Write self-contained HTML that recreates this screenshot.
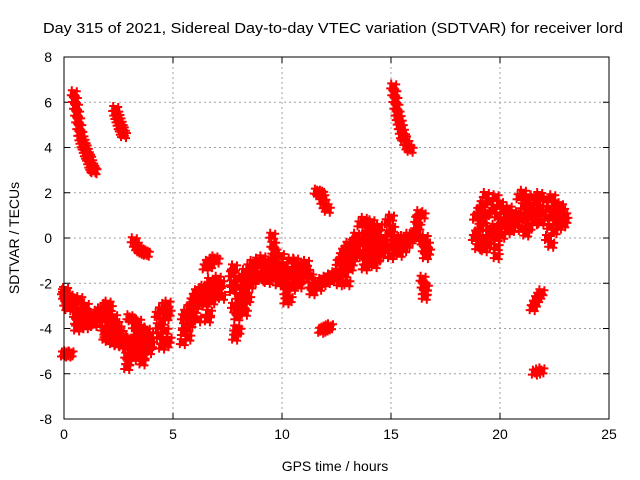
<!DOCTYPE html>
<html><head><meta charset="utf-8"><style>
html,body{margin:0;padding:0;background:#fff;}
svg{display:block;font-family:"Liberation Sans",Arial,sans-serif;}
</style></head><body>
<svg id="chart" width="640" height="480" viewBox="0 0 640 480" xmlns="http://www.w3.org/2000/svg">
<text x="333" y="33" font-size="14.5" text-anchor="middle" textLength="580" lengthAdjust="spacingAndGlyphs">Day 315 of 2021, Sidereal Day-to-day VTEC variation (SDTVAR) for receiver lord</text>
<text x="0" y="0" font-size="14" text-anchor="middle" transform="translate(19,238) rotate(-90)">SDTVAR / TECUs</text>
<text x="335" y="471" font-size="14" text-anchor="middle">GPS time / hours</text>
<g id="grid"></g>
<g id="ticks"></g>
<g id="points"></g>
<rect x="64" y="57" width="545" height="362" fill="none" stroke="#000" stroke-width="1"/>
</svg>
<script>
const xTicks=[0,5,10,15,20,25];
const yTicks=[-8,-6,-4,-2,0,2,4,6,8];
const passA=[[0.45,6.4],[0.5,6.1],[0.55,5.8],[0.6,5.5],[0.65,5.2],[0.7,4.9],[0.75,4.6],[0.8,4.4],[0.85,4.25],[0.9,4.1],[0.95,4.0],[1.0,3.85],[1.05,3.7],[1.1,3.6],[1.15,3.5],[1.2,3.35],[1.25,3.2],[1.3,3.1],[1.35,3.0],[1.4,2.95]];
const passB=[[2.35,5.7],[2.4,5.5],[2.45,5.35],[2.5,5.2],[2.55,5.05],[2.6,4.9],[2.65,4.8],[2.7,4.65],[2.75,4.55]];
const passC=[[3.2,-0.1],[3.3,-0.3],[3.4,-0.45],[3.5,-0.55],[3.6,-0.6],[3.7,-0.65],[3.8,-0.7]];
const passD=[[15.1,6.7],[15.15,6.4],[15.2,6.1],[15.25,5.8],[15.3,5.5],[15.35,5.3],[15.4,5.1],[15.45,4.9],[15.5,4.7],[15.55,4.5],[15.6,4.4],[15.7,4.2],[15.8,4.0],[15.9,3.9]];
const passE=[[11.6,2.05],[11.7,2.0],[11.8,1.95],[11.85,1.8],[11.9,1.6],[12.0,1.4],[12.1,1.25]];
const passF=[[11.8,-4.1],[11.9,-4.05],[12.0,-4.0],[12.1,-3.95],[12.2,-3.9]];
const passG=[[21.5,-3.1],[21.6,-2.9],[21.7,-2.7],[21.8,-2.55],[21.9,-2.4]];
const passH=[[21.6,-5.95],[21.75,-5.9],[21.9,-5.85]];
const pass0=[[0.0,-5.15],[0.1,-5.1],[0.2,-5.15],[0.3,-5.1]];
const blob1=[[0.0,-2.4],[0.05,-2.6],[0.1,-2.5],[0.15,-2.7],[0.2,-2.8],[0.25,-2.6],[0.3,-2.9],[0.35,-3.0],[0.4,-2.8],[0.1,-2.9],[0.2,-3.1],[0.05,-2.3],[0.3,-2.7]];
const blob2=[[0.5,-3.0],[0.55,-3.4],[0.6,-3.7],[0.65,-2.8],[0.7,-3.3],[0.75,-3.6],[0.8,-3.9],[0.85,-3.5],[0.9,-3.2],[0.95,-3.7],[1.0,-3.9],[1.05,-3.4],[1.1,-3.6],[1.15,-3.8],[1.2,-3.5],[1.25,-3.7],[1.3,-3.4],[1.35,-3.6],[1.4,-3.8],[1.45,-3.5],[1.5,-3.3],[1.55,-3.6],[1.6,-3.4],[1.65,-3.2],[0.7,-2.7],[0.6,-4.0],[1.0,-3.0]];
const blob3=[[1.75,-3.2],[1.8,-3.6],[1.85,-4.0],[1.9,-3.0],[1.95,-4.3],[2.0,-3.3],[2.05,-4.5],[2.1,-3.6],[2.15,-4.2],[2.2,-3.9],[2.25,-4.6],[2.3,-3.5],[2.35,-4.4],[2.4,-3.8],[2.45,-4.7],[2.5,-4.0],[2.55,-4.5],[2.6,-4.2],[2.65,-4.7],[2.7,-4.4],[2.75,-4.6],[2.0,-2.9],[2.1,-3.1],[2.3,-4.1],[1.9,-4.4]];
const blob4=[[2.85,-4.8],[2.9,-5.2],[2.95,-5.5],[3.0,-4.5],[3.05,-5.0],[3.1,-3.6],[3.15,-4.7],[3.2,-5.3],[3.25,-3.9],[3.3,-4.4],[3.35,-4.9],[3.4,-4.2],[3.45,-5.1],[3.5,-4.6],[3.55,-4.0],[3.6,-4.8],[3.65,-5.2],[3.7,-4.4],[3.75,-4.9],[3.8,-4.1],[3.85,-4.6],[3.9,-5.0],[3.95,-4.3],[4.0,-4.7],[3.0,-3.5],[3.6,-5.5],[3.4,-3.7],[2.9,-5.7]];
const blob5=[[4.3,-3.4],[4.35,-3.9],[4.4,-4.3],[4.45,-3.2],[4.5,-3.7],[4.55,-4.6],[4.6,-3.0],[4.65,-4.1],[4.7,-3.5],[4.75,-2.9],[4.8,-4.5],[4.8,-3.3],[4.5,-4.8],[4.7,-4.7]];
const blob6=[[5.45,-4.6],[5.5,-4.2],[5.55,-3.9],[5.6,-3.3],[5.65,-4.0],[5.7,-3.5],[5.75,-3.1],[5.8,-3.8],[5.85,-3.2],[5.9,-2.8],[5.95,-3.4],[6.0,-2.6],[6.05,-3.0],[6.1,-2.4],[6.15,-3.6],[6.2,-2.5],[6.25,-2.9],[6.3,-2.3],[6.35,-2.6],[6.4,-2.2],[5.5,-3.5],[5.7,-4.4]];
const blob7=[[6.5,-1.3],[6.6,-1.1],[6.7,-1.2],[6.8,-1.0],[6.9,-0.9],[7.0,-1.0],[6.5,-2.9],[6.55,-2.2],[6.6,-2.6],[6.7,-1.9],[6.75,-2.4],[6.8,-2.8],[6.9,-2.0],[6.95,-2.5],[7.05,-1.8],[7.1,-2.3],[7.2,-2.0],[7.25,-2.6],[6.6,-3.6],[6.65,-3.3]];
const blob8=[[7.7,-1.6],[7.75,-2.3],[7.8,-3.0],[7.85,-4.4],[7.9,-4.0],[7.95,-3.5],[8.0,-2.6],[8.05,-3.2],[8.1,-1.8],[8.15,-2.8],[8.2,-2.2],[8.25,-3.0],[8.3,-1.5],[8.35,-2.5],[8.4,-1.9],[8.45,-2.7],[8.5,-1.3],[8.55,-2.1],[8.6,-1.6],[8.65,-1.1],[8.7,-1.9],[8.75,-1.4],[7.75,-2.0],[7.9,-3.2],[8.0,-4.1],[8.3,-3.3],[7.8,-1.3]];
const blob9=[[8.9,-1.0],[8.95,-1.6],[9.0,-1.2],[9.05,-1.8],[9.1,-0.9],[9.15,-1.4],[9.2,-1.7],[9.25,-1.1],[9.3,-1.5],[9.35,-1.9],[9.4,-1.2],[9.5,-1.6],[9.55,0.1],[9.6,-0.3],[9.65,-0.6],[9.7,-0.9],[9.75,-1.3],[9.8,-1.7],[9.85,-2.0],[9.9,-1.5],[9.95,-0.8],[10.0,-1.9],[9.6,-1.0],[9.65,-1.8]];
const blob10=[[10.1,-1.2],[10.15,-1.8],[10.2,-2.4],[10.25,-1.5],[10.3,-2.1],[10.35,-2.7],[10.4,-1.0],[10.45,-1.7],[10.5,-2.2],[10.55,-1.4],[10.6,-1.9],[10.7,-1.2],[10.75,-1.7],[10.8,-2.1],[10.85,-1.4],[10.9,-1.8],[11.0,-1.3],[11.05,-1.6],[11.1,-1.1],[11.15,-1.5],[10.2,-2.8],[10.6,-1.0]];
const blob11=[[11.3,-1.7],[11.35,-2.1],[11.4,-2.4],[11.5,-2.2],[11.6,-2.0],[11.7,-2.2],[11.8,-1.9],[11.9,-2.0],[12.0,-1.8],[12.1,-1.9],[12.2,-1.7],[12.3,-1.8],[12.4,-1.6],[12.5,-1.7],[12.6,-1.5]];
const blob12=[[12.6,-1.1],[12.7,-1.6],[12.75,-0.8],[12.8,-1.3],[12.85,-0.6],[12.9,-1.1],[12.95,-0.5],[13.0,-1.0],[13.05,-0.3],[13.1,-0.8],[13.15,-1.3],[13.2,-0.4],[13.25,-0.9],[13.3,-0.2],[13.35,-0.7],[13.4,0.1],[13.45,-0.4],[13.5,-0.1],[12.9,-1.6],[13.0,-2.0],[12.65,-2.0]];
const blob13=[[13.6,0.6],[13.65,-0.2],[13.7,-0.8],[13.75,0.8],[13.8,0.1],[13.85,-0.5],[13.9,-1.1],[13.95,0.4],[14.0,-0.3],[14.05,-0.9],[14.1,0.7],[14.15,0.0],[14.2,-0.6],[14.25,-1.2],[14.3,0.2],[14.35,-0.4],[14.4,-0.9],[14.45,0.5],[14.5,-0.1],[14.55,-0.7],[14.6,0.0],[14.65,-0.5],[14.7,-0.2],[13.8,-1.3]];
const blob14=[[14.85,0.7],[14.9,0.2],[14.95,-0.4],[15.0,-0.8],[15.05,0.4],[15.1,-0.2],[15.15,-0.6],[15.2,0.0],[15.3,-0.5],[15.35,-0.1],[15.4,-0.7],[15.5,-0.3],[15.55,0.0],[15.6,-0.5],[15.7,-0.1],[15.75,-0.3],[15.8,0.1],[15.9,-0.1],[15.95,0.1],[15.0,0.9]];
const blob16a=[[16.15,0.3],[16.2,0.8],[16.3,1.1],[16.45,1.0],[16.2,0.0],[16.25,0.5],[16.5,-0.2],[16.55,-0.5],[16.6,-0.8],[16.65,-0.3],[16.7,-0.6],[16.55,0.0],[16.45,-1.8],[16.5,-2.1],[16.55,-2.4],[16.6,-2.2],[16.55,-2.6]];
const blob15=[[18.9,0.9],[18.95,0.2],[19.0,-0.4],[19.05,1.2],[19.1,0.5],[19.15,-0.2],[19.2,1.5],[19.25,0.8],[19.3,0.0],[19.35,1.9],[19.4,1.1],[19.45,-0.3],[19.5,0.4],[19.55,1.6],[19.6,0.1],[18.85,0.0],[19.3,-0.5]];
const blob16=[[19.7,1.2],[19.75,0.5],[19.8,1.8],[19.85,0.0],[19.9,1.0],[19.95,0.4],[20.0,1.5],[20.05,0.7],[20.1,0.1],[20.15,1.2],[20.2,0.6],[20.3,1.0],[20.35,0.3],[20.4,1.3],[20.45,0.5],[20.5,0.9],[20.55,0.4],[20.6,1.1],[20.7,0.7],[19.85,-0.4],[19.85,-0.8]];
const blob17=[[20.9,1.8],[20.95,1.0],[21.0,0.4],[21.05,2.0],[21.1,1.4],[21.15,0.8],[21.2,0.2],[21.25,1.7],[21.3,1.1],[21.35,0.5],[21.4,1.4],[21.45,0.9],[21.5,1.8],[21.55,1.2],[21.6,0.7],[21.7,1.6],[21.75,1.0],[21.8,1.9],[21.85,1.3],[21.9,0.7],[21.95,1.1]];
const blob18=[[22.1,1.7],[22.15,0.9],[22.2,0.0],[22.25,1.3],[22.3,0.5],[22.35,-0.3],[22.4,1.8],[22.45,1.0],[22.5,0.3],[22.55,1.5],[22.6,0.7],[22.65,1.1],[22.7,0.5],[22.75,1.4],[22.8,0.8],[22.85,1.2],[22.9,0.6],[22.95,1.0],[23.0,0.8]];
const allPasses=[passA,passB,passC,passD,passE,passF,passG,passH,pass0,blob1,blob2,blob3,blob4,blob5,blob6,blob7,blob8,blob9,blob10,blob11,blob12,blob13,blob14,blob16a,blob15,blob16,blob17,blob18];

const L=64,R=609,T=57,B=419,xMin=0,xMax=25,yMin=-8,yMax=8;
function xs(v){return L+(v-xMin)/(xMax-xMin)*(R-L);}
function ys(v){return B-(v-yMin)/(yMax-yMin)*(B-T);}
const NS='http://www.w3.org/2000/svg';
function mk(tag,attrs,parent){const e=document.createElementNS(NS,tag);for(const k in attrs)e.setAttribute(k,attrs[k]);parent.appendChild(e);return e;}
const grid=document.getElementById('grid'),ticks=document.getElementById('ticks'),pts=document.getElementById('points');
xTicks.forEach(t=>{const x=xs(t);
 if(t>xMin&&t<xMax){const g=mk('line',{x1:x,x2:x,y1:T,y2:B,stroke:'#a0a0a0','stroke-dasharray':'2,3'},grid);
 
 }
 mk('line',{x1:x,x2:x,y1:B,y2:B-6,stroke:'#000'},ticks);
 mk('line',{x1:x,x2:x,y1:T,y2:T+6,stroke:'#000'},ticks);
 const tx=mk('text',{x:x,y:B+20,'font-size':14,'text-anchor':'middle'},ticks);tx.textContent=t;
 
 });
yTicks.forEach(t=>{const y=ys(t);
 if(t>yMin&&t<yMax){const g=mk('line',{x1:L,x2:R,y1:y,y2:y,stroke:'#a0a0a0','stroke-dasharray':'2,3'},grid);
 
 }
 mk('line',{x1:L,x2:L+6,y1:y,y2:y,stroke:'#000'},ticks);
 mk('line',{x1:R,x2:R-6,y1:y,y2:y,stroke:'#000'},ticks);
 const tx=mk('text',{x:L-12,y:y+5,'font-size':14,'text-anchor':'end'},ticks);tx.textContent=t;
 
 });
// each sample drawn as a small cluster of '+' glyphs to mimic the dense overplotting
const glyphOffsets=[[0,0],[2,3],[-2,-3],[3,-2],[-3,2]];
let d='';
allPasses.forEach(p=>p.forEach(([h,v])=>{const cx=xs(h),cy=ys(v);
 glyphOffsets.forEach(([ox,oy])=>{const x=cx+ox,y=cy+oy;d+=`M${(x-4).toFixed(1)},${y.toFixed(1)}h8M${x.toFixed(1)},${(y-4).toFixed(1)}v8`;});}));
const path=mk('path',{d:d,stroke:'#ff0000','stroke-width':2,fill:'none'},pts);


</script>
</body></html>
